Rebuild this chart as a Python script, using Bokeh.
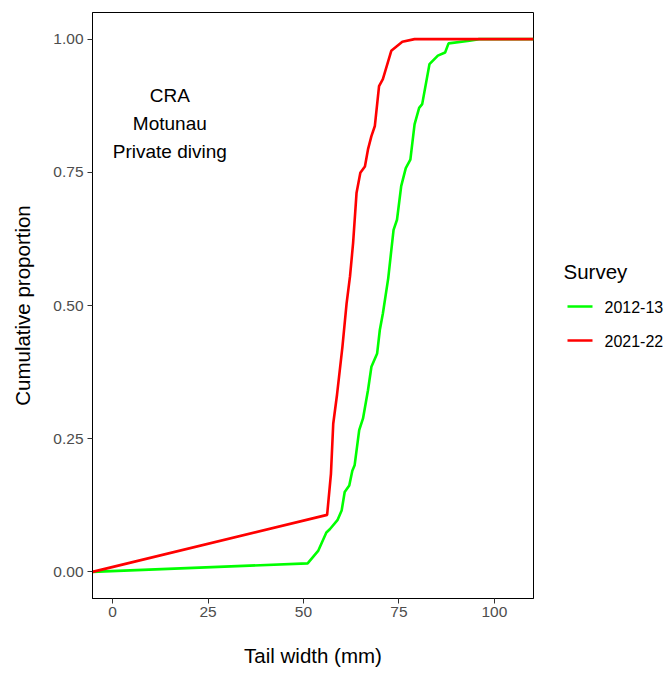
from bokeh.plotting import figure
from bokeh.layouts import row
from bokeh.models import Range1d, FixedTicker
from bokeh.core.properties import value
from bokeh.embed import file_html
from bokeh.resources import INLINE

# ---- data ----
x_limits = [-5.25, 110.25]
y_limits = [-0.05, 1.05]

survey_labels = ["2012-13", "2021-22"]
survey_colors = ["#00FF00", "#FF0000"]

green_x = [51.1, 53.9, 56.0, 56.9, 58.9, 60.0, 60.8, 62.0, 62.8, 63.4, 64.6, 65.6,
           66.9, 67.8, 69.3, 70.0, 70.8, 72.2, 73.6, 74.5, 75.6, 76.8, 78.0, 79.1,
           80.3, 81.1, 83.0, 85.2, 87.1, 88.0, 93.5, 96.0]
green_y = [0.016, 0.040, 0.074, 0.080, 0.097, 0.115, 0.150, 0.162, 0.190, 0.200, 0.266, 0.288,
           0.341, 0.385, 0.410, 0.454, 0.485, 0.551, 0.642, 0.661, 0.724, 0.758, 0.774, 0.840,
           0.871, 0.878, 0.953, 0.969, 0.975, 0.992, 0.997, 1.0]

red_x = [56.2, 57.2, 57.8, 58.8, 60.2, 61.3, 62.2, 63.0, 63.9, 64.9, 66.1, 66.9,
         67.8, 68.7, 69.8, 70.8, 73.0, 75.9, 79.1]
red_y = [0.107, 0.184, 0.278, 0.333, 0.422, 0.504, 0.555, 0.617, 0.711, 0.749, 0.761, 0.793,
         0.818, 0.837, 0.912, 0.925, 0.978, 0.995, 1.0]

x_ticks = [0, 25, 50, 75, 100]
x_tick_labels = ["0", "25", "50", "75", "100"]
y_ticks = [0.0, 0.25, 0.5, 0.75, 1.0]
y_tick_labels = ["0.00", "0.25", "0.50", "0.75", "1.00"]

ann_text = ["CRA", "Motunau", "Private diving"]
ann_x = [15, 15, 15]
ann_y = [0.895, 0.842, 0.789]

legend_title = "Survey"

FONT = "Liberation Sans"
TOP, FH, BOTTOM = 12, 586, 75

p = figure(frame_width=441, frame_height=FH, output_backend="svg", toolbar_location=None,
           x_range=Range1d(*x_limits), y_range=Range1d(*y_limits),
           min_border_left=92, min_border_top=TOP, min_border_bottom=BOTTOM, min_border_right=1)
p.background_fill_color = "white"
p.border_fill_color = "white"
p.outline_line_color = "black"
p.outline_line_width = 1
p.grid.visible = False

# ECDF lines padded with -Inf/Inf to the panel edges (as stat_ecdf does)
series = [(green_x, green_y), (red_x, red_y)]
for (xs, ys), col in zip(series, survey_colors):
    px = [x_limits[0]] + list(xs) + [x_limits[1]]
    py = [0.0] + list(ys) + [1.0]
    p.line(px, py, line_color=col, line_width=2.6)

p.text(x=ann_x, y=ann_y, text=ann_text, text_font=value(FONT), text_font_size="19px",
       text_align="center", text_baseline="middle", text_color="black")

for ax, ticks, labels in [(p.xaxis[0], x_ticks, x_tick_labels), (p.yaxis[0], y_ticks, y_tick_labels)]:
    ax.ticker = FixedTicker(ticks=ticks)
    ax.major_label_overrides = {t: l for t, l in zip(ticks, labels)}
    ax.minor_tick_line_color = None
    ax.major_tick_in = 0
    ax.major_tick_out = 5
    ax.major_tick_line_color = "#333333"
    ax.axis_line_color = "black"
    ax.major_label_text_font = FONT
    ax.major_label_text_font_size = "15.5px"
    ax.major_label_text_color = "#4D4D4D"
    ax.axis_label_text_font = FONT
    ax.axis_label_text_font_size = "20.5px"
    ax.axis_label_text_font_style = "normal"
    ax.axis_label_text_color = "black"

p.xaxis.axis_label = "Tail width (mm)"
p.yaxis.axis_label = "Cumulative proportion"
p.xaxis.major_label_standoff = 3
p.xaxis.axis_label_standoff = 24
p.yaxis.major_label_standoff = 4
p.yaxis.axis_label_standoff = 16

# ---- legend panel (screen-pixel coordinates, aligned with the main frame) ----
LW = 670 - 534
lg = figure(frame_width=LW, frame_height=FH, output_backend="svg", toolbar_location=None,
            x_range=Range1d(0, LW), y_range=Range1d(TOP + FH, TOP),
            min_border_left=0, min_border_right=0, min_border_top=TOP, min_border_bottom=BOTTOM)
lg.outline_line_color = None
lg.axis.visible = False
lg.grid.visible = False
lg.background_fill_color = "white"
lg.border_fill_color = "white"

lg.text(x=[29], y=[271], text=[legend_title], text_font=value(FONT), text_font_size="20.5px",
        text_align="left", text_baseline="middle", text_color="black")
item_y = [306 + 34 * i for i in range(len(survey_labels))]
lg.segment(x0=[33] * len(item_y), x1=[58] * len(item_y), y0=item_y, y1=item_y,
           line_color=survey_colors, line_width=2.6)
lg.text(x=[70] * len(item_y), y=item_y, text=survey_labels, text_font=value(FONT),
        text_font_size="16px", text_align="left", text_baseline="middle", text_color="black")

layout = row(p, lg, spacing=0)
open("out.html", "w").write(file_html(layout, INLINE))
